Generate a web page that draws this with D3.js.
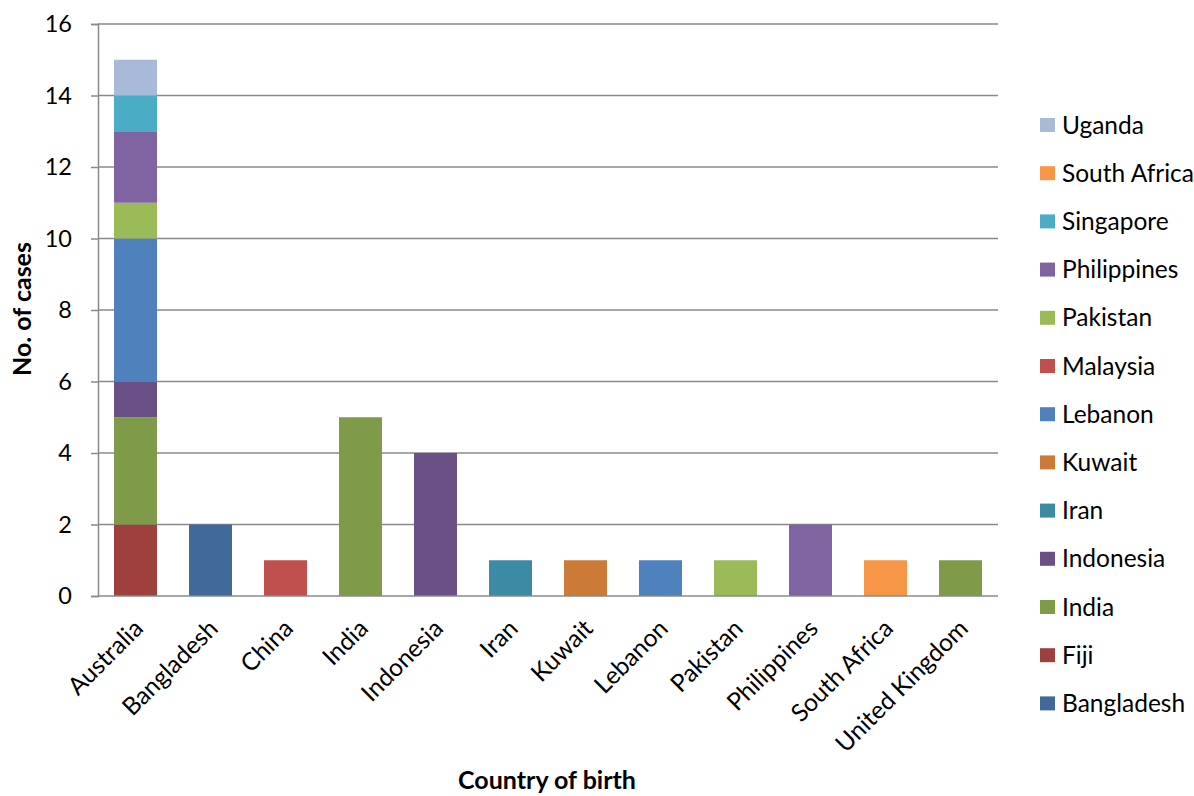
<!DOCTYPE html>
<html>
<head>
<meta charset="utf-8">
<script src="https://cdn.jsdelivr.net/npm/d3@7"></script>
<style>
  html, body { margin: 0; padding: 0; background: #fff; }
  svg { display: block; font-family: Lato, "Open Sans", sans-serif; }
</style>
</head>
<body>
<svg id="chart" width="1194" height="796"></svg>
<script>
// Countries of birth along the x axis
const categories = ["Australia", "Bangladesh", "China", "India", "Indonesia", "Iran",
  "Kuwait", "Lebanon", "Pakistan", "Philippines", "South Africa", "United Kingdom"];

// Stacked series (bottom to top), one value per country of birth
const seriesNames = ["Bangladesh", "Fiji", "India", "Indonesia", "Iran", "Kuwait",
  "Lebanon", "Malaysia", "Pakistan", "Philippines", "Singapore", "South Africa", "Uganda"];

const bangladesh  = [0, 2, 0, 0, 0, 0, 0, 0, 0, 0, 0, 0];
const fiji        = [2, 0, 0, 0, 0, 0, 0, 0, 0, 0, 0, 0];
const india       = [3, 0, 0, 5, 0, 0, 0, 0, 0, 0, 0, 1];
const indonesia   = [1, 0, 0, 0, 4, 0, 0, 0, 0, 0, 0, 0];
const iran        = [0, 0, 0, 0, 0, 1, 0, 0, 0, 0, 0, 0];
const kuwait      = [0, 0, 0, 0, 0, 0, 1, 0, 0, 0, 0, 0];
const lebanon     = [4, 0, 0, 0, 0, 0, 0, 1, 0, 0, 0, 0];
const malaysia    = [0, 0, 1, 0, 0, 0, 0, 0, 0, 0, 0, 0];
const pakistan    = [1, 0, 0, 0, 0, 0, 0, 0, 1, 0, 0, 0];
const philippines = [2, 0, 0, 0, 0, 0, 0, 0, 0, 2, 0, 0];
const singapore   = [1, 0, 0, 0, 0, 0, 0, 0, 0, 0, 0, 0];
const southAfrica = [0, 0, 0, 0, 0, 0, 0, 0, 0, 0, 1, 0];
const uganda      = [1, 0, 0, 0, 0, 0, 0, 0, 0, 0, 0, 0];

const seriesValues = [bangladesh, fiji, india, indonesia, iran, kuwait, lebanon,
  malaysia, pakistan, philippines, singapore, southAfrica, uganda];

const seriesColors = ["#416A9B", "#9E413E", "#7F9A48", "#6A5085", "#3C8AA3", "#CC7A37",
  "#4F81BD", "#C0504D", "#9BBB59", "#8064A2", "#4BACC6", "#F79646", "#A9BAD9"];

const yTicks = [0, 2, 4, 6, 8, 10, 12, 14, 16];

// Build rows for d3.stack
const rows = categories.map((c, i) => {
  const r = { category: c };
  seriesNames.forEach((s, k) => { r[s] = seriesValues[k][i]; });
  return r;
});

const svg = d3.select("#chart");
const plot = { left: 98, right: 998, top: 24, bottom: 596 };

const x = d3.scaleBand().domain(categories).range([plot.left, plot.right])
  .paddingInner(0.427).paddingOuter(0.2135);
const y = d3.scaleLinear().domain([0, 16]).range([plot.bottom, plot.top]);
const color = d3.scaleOrdinal().domain(seriesNames).range(seriesColors);

const gridColor = "#8a8a8a";

// Horizontal gridlines
svg.append("g")
  .selectAll("line").data(yTicks.filter(d => d > 0)).join("line")
  .attr("x1", plot.left).attr("x2", plot.right)
  .attr("y1", d => y(d)).attr("y2", d => y(d))
  .attr("stroke", gridColor).attr("stroke-width", 1.5);

// Stacked bars
const stacked = d3.stack().keys(seriesNames)(rows);
svg.append("g")
  .selectAll("g").data(stacked).join("g")
  .attr("fill", d => color(d.key))
  .selectAll("rect").data(d => d.filter(p => p[1] - p[0] > 0)).join("rect")
  .attr("x", d => x(d.data.category))
  .attr("width", x.bandwidth())
  .attr("y", d => y(d[1]))
  .attr("height", d => y(d[0]) - y(d[1]));

// Y axis
const yAxis = svg.append("g")
  .attr("transform", `translate(${plot.left},0)`)
  .call(d3.axisLeft(y).tickValues(yTicks).tickSize(7).tickPadding(19));
yAxis.select(".domain").attr("stroke", gridColor).attr("stroke-width", 1.5);
yAxis.selectAll(".tick line").attr("stroke", gridColor).attr("stroke-width", 1.5);
yAxis.selectAll(".tick text").attr("font-size", 23.5).attr("fill", "#000")
  .attr("font-family", "Lato, sans-serif");

// X axis baseline and rotated category labels
const xAxis = svg.append("g")
  .attr("transform", `translate(0,${plot.bottom})`)
  .call(d3.axisBottom(x).tickSize(0).tickPadding(0));
xAxis.select(".domain").attr("stroke", gridColor).attr("stroke-width", 1.5)
  .attr("d", `M${plot.left},0H${plot.right}`);
xAxis.selectAll(".tick text")
  .attr("font-size", 24.5).attr("fill", "#000")
  .attr("font-family", "Lato, sans-serif")
  .attr("text-anchor", "end")
  .attr("dy", 0)
  .attr("transform", "translate(9,34) rotate(-45)");

// Axis titles
svg.append("text")
  .attr("transform", `translate(31,309) rotate(-90)`)
  .attr("text-anchor", "middle")
  .attr("font-weight", "bold").attr("font-size", 25)
  .text("No. of cases");

svg.append("text")
  .attr("x", 547).attr("y", 789)
  .attr("text-anchor", "middle")
  .attr("font-weight", "bold").attr("font-size", 25)
  .text("Country of birth");

// Legend, top entry is the last stacked series
const legendOrder = seriesNames.slice().reverse();
const legend = svg.append("g").attr("transform", "translate(1040,125)");
const item = legend.selectAll("g").data(legendOrder).join("g")
  .attr("transform", (d, i) => `translate(0,${i * 48.2})`);
item.append("rect").attr("x", 0).attr("y", -7).attr("width", 15).attr("height", 14)
  .attr("fill", d => color(d));
item.append("text").attr("x", 22).attr("y", 0).attr("dy", "0.35em")
  .attr("font-size", 24.5).text(d => d);
</script>
</body>
</html>
